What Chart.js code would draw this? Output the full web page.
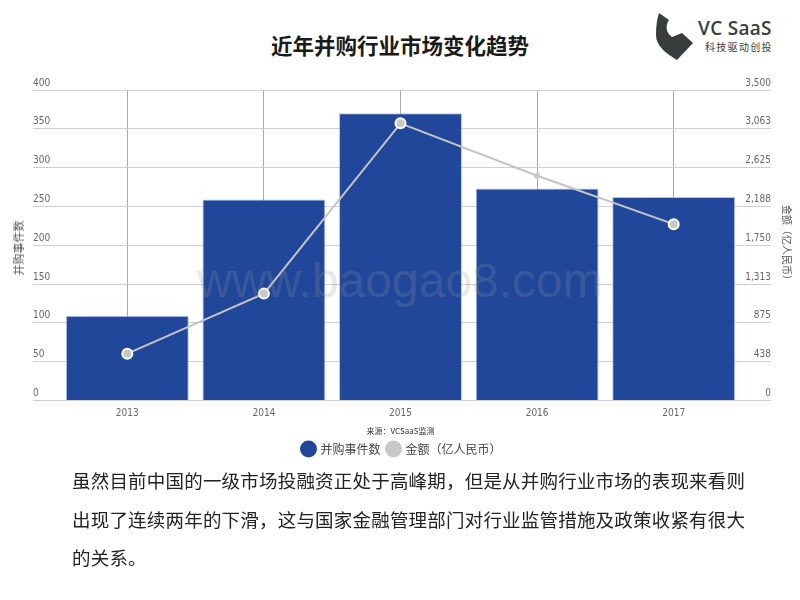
<!DOCTYPE html>
<html>
<head>
<meta charset="utf-8">
<script src="https://cdn.jsdelivr.net/npm/chart.js@4"></script>
<style>
  html, body { margin: 0; padding: 0; background: #fff; }
  body { width: 800px; height: 600px; position: relative; overflow: hidden;
         font-family: "Noto Sans CJK SC", "Noto Sans", sans-serif; }
  .title { position: absolute; left: 0; width: 800px; top: 30px; text-align: center;
           font-size: 21.5px; font-weight: 700; color: #1a1a1a; line-height: 30px; }
  .logo { position: absolute; left: 650px; top: 8px; width: 150px; height: 60px; }
  .logo .name { position: absolute; left: 48px; top: 8px; font-family: "Open Sans", Lato, sans-serif;
                font-size: 19px; font-weight: 600; color: #3a3d3d; letter-spacing: 0.3px; line-height: 24px; }
  .logo .sub { position: absolute; left: 55px; top: 33px; font-size: 10px; color: #3a3d3d;
               letter-spacing: 1.3px; line-height: 12px; }
  #wrap { position: absolute; left: 0; top: 60px; width: 800px; height: 407px; }
  .ytitle { position: absolute; font-size: 11px; color: #555; white-space: nowrap; line-height: 12px; }
  .ytitle.left { left: 18px; top: 248px; transform: translate(-50%, -50%) rotate(-90deg); }
  .ytitle.right { left: 787px; top: 245px; font-size: 10px; transform: translate(-50%, -50%) rotate(90deg); }
  .watermark { position: absolute; left: 0; width: 800px; top: 253px; text-align: center;
               font-family: "Liberation Sans", Arial, sans-serif; font-size: 48px; line-height: 56px;
               color: rgba(150, 150, 150, 0.22); pointer-events: none; }
  .text { position: absolute; left: 72px; top: 461px; width: 680px; font-size: 18.5px;
          letter-spacing: 0.2px; line-height: 38.5px; color: #222; }
</style>
</head>
<body>
<div class="title">近年并购行业市场变化趋势</div>
<div class="logo">
  <svg width="48" height="56" viewBox="650 8 48 56" style="position:absolute;left:0;top:0">
    <path d="M659 13 L669 20 C665 26 666 33 672 37 L682 33 L693 43 L677 60 C665 53 656 45 656 35 C656 26 657 19 659 13 Z" fill="#3a3d3d"/>
  </svg>
  <div class="name">VC SaaS</div>
  <div class="sub">科技驱动创投</div>
</div>
<div id="wrap"><canvas id="chart"></canvas></div>
<div class="ytitle left">并购事件数</div>
<div class="ytitle right">金额（亿人民币）</div>
<div class="watermark">www.baogao8.com</div>
<div class="text">虽然目前中国的一级市场投融资正处于高峰期，但是从并购行业市场的表现来看则出现了连续两年的下滑，这与国家金融管理部门对行业监管措施及政策收紧有很大的关系。</div>

<script>
// chart data
const years = ['2013', '2014', '2015', '2016', '2017'];
const dealCounts = [109, 259, 370, 273, 262];
const dealAmounts = [527, 1204, 3124, 2533, 1987];
const countTickLabels = ['0', '50', '100', '150', '200', '250', '300', '350', '400'];
const amountTickLabels = ['0', '438', '875', '1,313', '1,750', '2,188', '2,625', '3,063', '3,500'];

const narrow = "'Liberation Sans Narrow', 'DejaVu Sans Condensed', sans-serif";
const gridColor = '#cfcfcf';

new Chart(document.getElementById('chart'), {
  data: {
    labels: years,
    datasets: [
      {
        type: 'bar',
        label: '并购事件数',
        data: dealCounts,
        yAxisID: 'yCount',
        backgroundColor: '#21479b',
        borderColor: 'rgba(150, 175, 220, 0.7)',
        borderWidth: 1,
        barPercentage: 0.9,
        categoryPercentage: 1,
        order: 1
      },
      {
        type: 'line',
        label: '金额（亿人民币）',
        data: dealAmounts,
        yAxisID: 'yAmount',
        borderColor: '#c4c4c4',
        backgroundColor: '#c8c8c8',
        borderWidth: 2,
        tension: 0,
        pointRadius: [5, 5, 5, 3, 5],
        pointBorderWidth: [2, 2, 2, 0, 2],
        pointBackgroundColor: '#c8c8c8',
        pointBorderColor: '#ffffff',
        order: 0
      }
    ]
  },
  options: {
    responsive: true,
    maintainAspectRatio: false,
    animation: false,
    layout: { padding: { left: 33, right: 29, top: 30, bottom: 2 } },
    scales: {
      x: {
        offset: true,
        border: { display: false },
        grid: { offset: false, color: '#a8a8a8', drawTicks: false },
        ticks: { color: '#666', font: { family: narrow, size: 10 }, padding: 7 },
        title: {
          display: true,
          text: '来源：VCSaaS监测',
          color: '#333',
          font: { family: "'Noto Sans CJK SC', sans-serif", size: 8 },
          padding: { top: 0, bottom: 0 }
        }
      },
      yCount: {
        position: 'left',
        min: 0,
        max: 400,
        border: { display: false },
        grid: { color: gridColor, tickLength: 26 },
        ticks: {
          stepSize: 50,
          autoSkip: false,
          crossAlign: 'far',
          labelOffset: -7,
          color: '#666',
          font: { family: narrow, size: 10 },
          callback: (v, i) => countTickLabels[i]
        },
        afterFit: s => { s.width = 26; }
      },
      yAmount: {
        position: 'right',
        min: 0,
        max: 3500,
        border: { display: false },
        grid: { color: gridColor, drawOnChartArea: false, tickLength: 29 },
        ticks: {
          stepSize: 437.5,
          autoSkip: false,
          crossAlign: 'far',
          labelOffset: -7,
          color: '#666',
          font: { family: narrow, size: 10 },
          callback: (v, i) => amountTickLabels[i]
        },
        afterFit: s => { s.width = 29; }
      }
    },
    plugins: {
      tooltip: { enabled: false },
      legend: {
        position: 'bottom',
        labels: {
          usePointStyle: true,
          pointStyle: 'circle',
          boxWidth: 13,
          boxHeight: 13,
          padding: 7,
          color: '#444',
          font: { family: "'Noto Sans CJK SC', sans-serif", size: 12 },
          sort: (a, b) => a.datasetIndex - b.datasetIndex,
          generateLabels: chart => Chart.defaults.plugins.legend.labels.generateLabels(chart)
            .map(item => ({ ...item, lineWidth: 0, strokeStyle: 'transparent' }))
        }
      }
    }
  }
});
</script>
</body>
</html>
